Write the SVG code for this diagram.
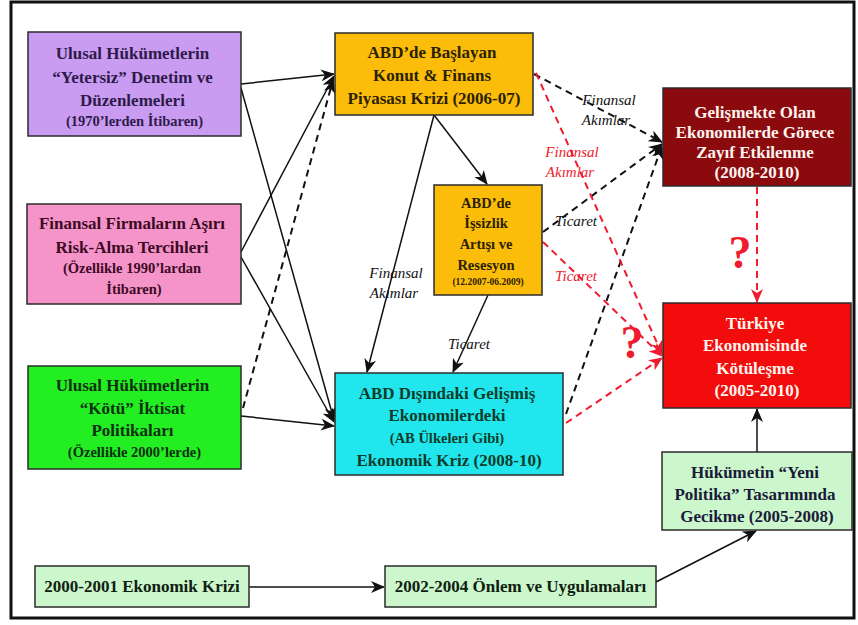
<svg xmlns="http://www.w3.org/2000/svg" width="858" height="625" viewBox="0 0 858 625">
  <defs>
    <marker id="ah" viewBox="0 0 14 12" refX="13" refY="6" markerWidth="14" markerHeight="12" markerUnits="userSpaceOnUse" orient="auto">
      <path d="M0,0 L14,6 L0,12 L4,6 z" fill="#111"/>
    </marker>
    <marker id="ahr" viewBox="0 0 14 12" refX="13" refY="6" markerWidth="14" markerHeight="12" markerUnits="userSpaceOnUse" orient="auto">
      <path d="M0,0 L14,6 L0,12 L4,6 z" fill="#ee1c2e"/>
    </marker>
  </defs>
  <style>
    .box { stroke: #2b2b2b; stroke-width: 1.5; }
    .t { font-family: "Liberation Serif", "Times New Roman", serif; font-weight: bold; text-anchor: middle; }
    .l { font-size: 17px; }
    .s { font-size: 14.5px; }
    .xs { font-size: 9.5px; }
    .solid { fill: none; stroke: #111; stroke-width: 1.5; }
    .dash { fill: none; stroke: #111; stroke-width: 2; stroke-dasharray: 7 5; }
    .rdash { fill: none; stroke: #ee1c2e; stroke-width: 2; stroke-dasharray: 7 5; }
    .lbl { font-family: "Liberation Serif", "Times New Roman", serif; font-style: italic; font-size: 15px; text-anchor: middle; }
    .q { font-family: "Liberation Serif", "Times New Roman", serif; font-weight: bold; font-size: 46px; fill: #ee1c2e; text-anchor: middle; }
  </style>

  <rect width="858" height="625" fill="#ffffff"/>
  <!-- outer frame -->
  <rect x="11" y="2" width="843" height="616" fill="none" stroke="#111" stroke-width="3"/>

  <!-- connectors -->
  <g id="connectors">
    <!-- solid causal links -->
    <line class="solid" x1="241" y1="84" x2="334" y2="74" marker-end="url(#ah)"/>
    <line class="solid" x1="241" y1="88" x2="334" y2="420" marker-end="url(#ah)"/>
    <line class="solid" x1="241" y1="252" x2="334" y2="76" marker-end="url(#ah)"/>
    <line class="solid" x1="241" y1="257" x2="334" y2="422" marker-end="url(#ah)"/>
    <line class="solid" x1="241" y1="416" x2="334" y2="426" marker-end="url(#ah)"/>
    <line class="dash" x1="243" y1="408" x2="333" y2="80" marker-end="url(#ah)"/>
    <line class="solid" x1="434" y1="115" x2="487" y2="184" marker-end="url(#ah)"/>
    <line class="solid" x1="434" y1="115" x2="367" y2="372" marker-end="url(#ah)"/>
    <line class="solid" x1="488" y1="295" x2="453" y2="372" marker-end="url(#ah)"/>
    <line class="solid" x1="757" y1="452" x2="757" y2="409" marker-end="url(#ah)"/>
    <line class="solid" x1="249" y1="587" x2="384" y2="587" marker-end="url(#ah)"/>
    <line class="solid" x1="656" y1="582" x2="756" y2="531" marker-end="url(#ah)"/>

    <!-- black dashed links to developing economies -->
    <line class="dash" x1="534" y1="74" x2="662" y2="142" marker-end="url(#ah)"/>
    <line class="dash" x1="543" y1="232" x2="662" y2="144" marker-end="url(#ah)"/>
    <line class="dash" x1="566" y1="414" x2="662" y2="146" marker-end="url(#ah)"/>

    <!-- red dashed links to Turkey -->
    <line class="rdash" x1="536" y1="73" x2="662" y2="354" marker-end="url(#ahr)"/>
    <line class="rdash" x1="543" y1="242" x2="662" y2="356" marker-end="url(#ahr)"/>
    <line class="rdash" x1="566" y1="423" x2="662" y2="358" marker-end="url(#ahr)"/>
    <line class="rdash" x1="757" y1="187" x2="757" y2="302" marker-end="url(#ahr)"/>

    <!-- link labels -->
    <text class="lbl" x="396" y="278" fill="#111">Finansal</text>
    <text class="lbl" x="394" y="298" fill="#111">Akımlar</text>
    <text class="lbl" x="469" y="349" fill="#111">Ticaret</text>
    <text class="lbl" x="609" y="105" fill="#111">Finansal</text>
    <text class="lbl" x="606" y="125" fill="#111">Akımlar</text>
    <text class="lbl" x="572" y="157" fill="#ee1c2e">Finansal</text>
    <text class="lbl" x="570" y="177" fill="#ee1c2e">Akımlar</text>
    <text class="lbl" x="576" y="226" fill="#111">Ticaret</text>
    <text class="lbl" x="576" y="281" fill="#ee1c2e">Ticaret</text>
    <text class="q" x="740" y="268">?</text>
    <text class="q" x="632" y="358">?</text>
  </g>

  <g id="n-denetim">
    <rect class="box" x="28" y="32" width="213" height="104" fill="#c99cf2"/>
    <text class="t" fill="#2e1a4a">
      <tspan class="l" x="134.5" y="59">Ulusal Hükümetlerin</tspan>
      <tspan class="l" x="134.5" y="83">“Yetersiz” Denetim ve</tspan>
      <tspan class="l" x="134.5" y="106">Düzenlemeleri</tspan>
      <tspan class="s" x="134.5" y="126">(1970’lerden İtibaren)</tspan>
    </text>
  </g>

  <g id="n-risk">
    <rect class="box" x="27" y="204" width="214" height="100" fill="#f494c8"/>
    <text class="t" fill="#3d0a26">
      <tspan class="l" x="134" y="229">Finansal Firmaların Aşırı</tspan>
      <tspan class="l" x="134" y="253">Risk-Alma Tercihleri</tspan>
      <tspan class="s" x="134" y="273">(Özellikle 1990’lardan</tspan>
      <tspan class="s" x="134" y="294">İtibaren)</tspan>
    </text>
  </g>

  <g id="n-iktisat">
    <rect class="box" x="28" y="366" width="213" height="103" fill="#22ee22"/>
    <text class="t" fill="#0d3010">
      <tspan class="l" x="134.5" y="391">Ulusal Hükümetlerin</tspan>
      <tspan class="l" x="134.5" y="414">“Kötü” İktisat</tspan>
      <tspan class="l" x="134.5" y="436">Politikaları</tspan>
      <tspan class="s" x="134.5" y="457">(Özellikle 2000’lerde)</tspan>
    </text>
  </g>

  <g id="n-konut">
    <rect class="box" x="335" y="33" width="198" height="82" fill="#fbbd0a"/>
    <text class="t" fill="#2b2100">
      <tspan class="l" x="434" y="58">ABD’de Başlayan</tspan>
      <tspan class="l" x="434" y="81">Konut &amp; Finans</tspan>
      <tspan class="l" x="434" y="104">Piyasası Krizi (2006-07)</tspan>
    </text>
  </g>

  <g id="n-issizlik">
    <rect class="box" x="434" y="185" width="108" height="110" fill="#fbbd0a"/>
    <text class="t" fill="#2b2100">
      <tspan class="s" x="488" y="208">ABD’de</tspan>
      <tspan class="s" x="488" y="228">İşsizlik</tspan>
      <tspan class="s" x="488" y="249">Artışı ve</tspan>
      <tspan class="s" x="488" y="270">Resesyon</tspan>
      <tspan class="xs" x="488" y="285">(12.2007-06.2009)</tspan>
    </text>
  </g>

  <g id="n-gelismis">
    <rect class="box" x="335" y="373" width="228" height="102" fill="#22e6ee"/>
    <text class="t" fill="#0b3d2a">
      <tspan class="l" x="449" y="399">ABD Dışındaki Gelişmiş</tspan>
      <tspan class="l" x="449" y="421">Ekonomilerdeki</tspan>
      <tspan class="s" x="449" y="443">(AB Ülkeleri Gibi)</tspan>
      <tspan class="l" x="449" y="466">Ekonomik Kriz (2008-10)</tspan>
    </text>
  </g>

  <g id="n-gelismekte">
    <rect class="box" x="663" y="88" width="188" height="98" fill="#8a0a0e"/>
    <text class="t" fill="#fff4ee">
      <tspan class="l" x="757" y="118">Gelişmekte Olan</tspan>
      <tspan class="l" x="757" y="138">Ekonomilerde Görece</tspan>
      <tspan class="l" x="757" y="158">Zayıf Etkilenme</tspan>
      <tspan class="l" x="757" y="178">(2008-2010)</tspan>
    </text>
  </g>

  <g id="n-turkiye">
    <rect class="box" x="663" y="303" width="188" height="105" fill="#f20c0c"/>
    <text class="t" fill="#fff4ee">
      <tspan class="l" x="757" y="329">Türkiye</tspan>
      <tspan class="l" x="757" y="351">Ekonomisinde</tspan>
      <tspan class="l" x="757" y="374">Kötüleşme</tspan>
      <tspan class="l" x="757" y="396">(2005-2010)</tspan>
    </text>
  </g>

  <g id="n-yeni-politika">
    <rect class="box" x="662" y="452" width="190" height="78" fill="#ccf7cc"/>
    <text class="t" fill="#1a1a3a">
      <tspan class="l" x="757" y="478">Hükümetin “Yeni</tspan>
      <tspan class="l" x="757" y="500">Politika” Tasarımında</tspan>
      <tspan class="l" x="757" y="522">Gecikme (2005-2008)</tspan>
    </text>
  </g>

  <g id="n-kriz-2001">
    <rect class="box" x="35" y="566" width="214" height="41" fill="#ccf7cc"/>
    <text class="t l" x="142" y="592" fill="#102010">2000-2001 Ekonomik Krizi</text>
  </g>

  <g id="n-onlem">
    <rect class="box" x="385" y="566" width="271" height="41" fill="#ccf7cc"/>
    <text class="t l" x="520.5" y="592" fill="#102010">2002-2004 Önlem ve Uygulamaları</text>
  </g>
</svg>
